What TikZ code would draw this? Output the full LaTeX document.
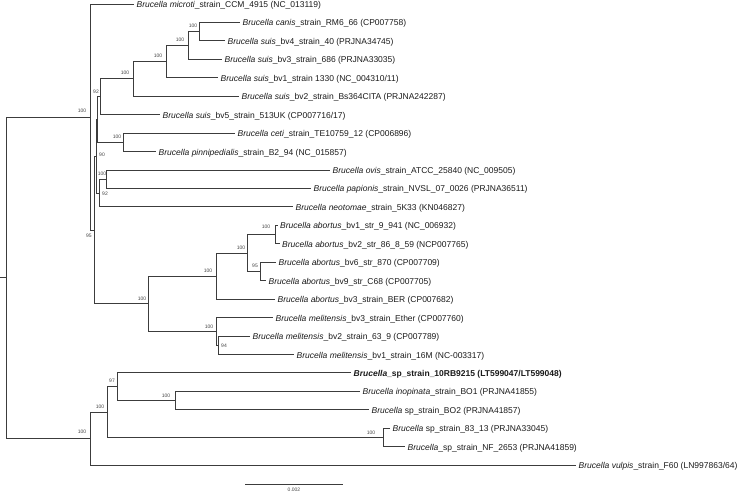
\documentclass[tikz,border=0pt]{standalone}
\usepackage{fontspec}
\setmainfont{Liberation Sans}
\definecolor{linec}{HTML}{3C3C3C}
\definecolor{textc}{HTML}{1A1A1A}
\definecolor{bootc}{HTML}{444444}
\begin{document}
\begin{tikzpicture}[x=1pt,y=-1pt,
  branch/.style={draw=linec, line width=0.8pt},
  leaf/.style={anchor=west, inner xsep=2.5pt, inner ysep=0pt, text height=0.72em, text depth=0pt,
    font=\fontsize{8.5}{9}\selectfont, text=textc},
  boot/.style={font=\fontsize{5}{6}\selectfont, text=bootc, inner sep=0pt}]
\useasboundingbox (0,0) rectangle (750,492);
% internal nodes
\coordinate (root0) at (0,277.8);
\coordinate (R) at (6,277.8);
\coordinate (A) at (90.5,117);
\coordinate (B) at (90.5,438.5);
\coordinate (G) at (94.5,230);
\coordinate (H) at (96,156.3);
\coordinate (Lp) at (97.5,119.5);
\coordinate (J) at (100,96.8);
\coordinate (K1) at (133,78.9);
\coordinate (K2) at (166,61.6);
\coordinate (K3) at (188,45.5);
\coordinate (K4) at (199,31.6);
\coordinate (M) at (123,142.3);
\coordinate (N) at (99,193);
\coordinate (O) at (106,179.2);
\coordinate (I) at (148,303.6);
\coordinate (P) at (216,276);
\coordinate (P1) at (247,252.9);
\coordinate (S1) at (275.5,234.5);
\coordinate (S2) at (260,271.4);
\coordinate (Q) at (216,331.3);
\coordinate (Qp) at (218.5,345.2);
\coordinate (C) at (107,412);
\coordinate (D) at (117,386.6);
\coordinate (F) at (175,400.5);
\coordinate (E) at (383,437.4);
% leaves
\node[leaf] (L0) at (134,4) {\textit{Brucella microti}\_strain\_CCM\_4915 (NC\_013119)};
\node[leaf] (L1) at (240,22.4) {\textit{Brucella canis}\_strain\_RM6\_66 (CP007758)};
\node[leaf] (L2) at (225,40.9) {\textit{Brucella suis}\_bv4\_strain\_40 (PRJNA34745)};
\node[leaf] (L3) at (222,59.3) {\textit{Brucella suis}\_bv3\_strain\_686 (PRJNA33035)};
\node[leaf] (L4) at (218,77.8) {\textit{Brucella suis}\_bv1\_strain 1330 (NC\_004310/11)};
\node[leaf] (L5) at (239,96.2) {\textit{Brucella suis}\_bv2\_strain\_Bs364CITA (PRJNA242287)};
\node[leaf] (L6) at (160,114.6) {\textit{Brucella suis}\_bv5\_strain\_513UK (CP007716/17)};
\node[leaf] (L7) at (235,133.1) {\textit{Brucella ceti}\_strain\_TE10759\_12 (CP006896)};
\node[leaf] (L8) at (156,151.5) {\textit{Brucella pinnipedialis}\_strain\_B2\_94 (NC\_015857)};
\node[leaf] (L9) at (330,170) {\textit{Brucella ovis}\_strain\_ATCC\_25840 (NC\_009505)};
\node[leaf] (L10) at (311,188.4) {\textit{Brucella papionis}\_strain\_NVSL\_07\_0026 (PRJNA36511)};
\node[leaf] (L11) at (293,206.8) {\textit{Brucella neotomae}\_strain\_5K33 (KN046827)};
\node[leaf] (L12) at (277.5,225.3) {\textit{Brucella abortus}\_bv1\_str\_9\_941 (NC\_006932)};
\node[leaf] (L13) at (279.5,243.7) {\textit{Brucella abortus}\_bv2\_str\_86\_8\_59 (NCP007765)};
\node[leaf] (L14) at (276,262.2) {\textit{Brucella abortus}\_bv6\_str\_870 (CP007709)};
\node[leaf] (L15) at (266,280.6) {\textit{Brucella abortus}\_bv9\_str\_C68 (CP007705)};
\node[leaf] (L16) at (275,299) {\textit{Brucella abortus}\_bv3\_strain\_BER (CP007682)};
\node[leaf] (L17) at (273,317.5) {\textit{Brucella melitensis}\_bv3\_strain\_Ether (CP007760)};
\node[leaf] (L18) at (250,335.9) {\textit{Brucella melitensis}\_bv2\_strain\_63\_9 (CP007789)};
\node[leaf] (L19) at (294,354.4) {\textit{Brucella melitensis}\_bv1\_strain\_16M (NC-003317)};
\node[leaf] (L20) at (351,372.8) {\textbf{\textit{Brucella}\_sp\_strain\_10RB9215 (LT599047/LT599048)}};
\node[leaf] (L21) at (360,391.2) {\textit{Brucella inopinata}\_strain\_BO1 (PRJNA41855)};
\node[leaf] (L22) at (369,409.7) {\textit{Brucella} sp\_strain\_BO2 (PRJNA41857)};
\node[leaf] (L23) at (390,428.1) {\textit{Brucella} sp\_strain\_83\_13 (PRJNA33045)};
\node[leaf] (L24) at (405,446.6) {\textit{Brucella}\_sp\_strain\_NF\_2653 (PRJNA41859)};
\node[leaf] (L25) at (576,465) {\textit{Brucella vulpis}\_strain\_F60 (LN997863/64)};
% branches
\draw[branch] (root0) -- (R);
\draw[branch] (R) |- (A);  \draw[branch] (R) |- (B);
\draw[branch] (A) |- (L0.west); \draw[branch] (A) |- (G);
\draw[branch] (G) |- (H); \draw[branch] (G) |- (I);
\draw[branch] (H) |- (Lp); \draw[branch] (H) |- (N);
\draw[branch] (Lp) |- (J); \draw[branch] (Lp) |- (M);
\draw[branch] (J) |- (K1); \draw[branch] (J) |- (L6.west);
\draw[branch] (K1) |- (K2); \draw[branch] (K1) |- (L5.west);
\draw[branch] (K2) |- (K3); \draw[branch] (K2) |- (L4.west);
\draw[branch] (K3) |- (K4); \draw[branch] (K3) |- (L3.west);
\draw[branch] (K4) |- (L1.west); \draw[branch] (K4) |- (L2.west);
\draw[branch] (M) |- (L7.west); \draw[branch] (M) |- (L8.west);
\draw[branch] (N) |- (O); \draw[branch] (N) |- (L11.west);
\draw[branch] (O) |- (L9.west); \draw[branch] (O) |- (L10.west);
\draw[branch] (I) |- (P); \draw[branch] (I) |- (Q);
\draw[branch] (P) |- (P1); \draw[branch] (P) |- (L16.west);
\draw[branch] (P1) |- (S1); \draw[branch] (P1) |- (S2);
\draw[branch] (S1) |- (L12.west); \draw[branch] (S1) |- (L13.west);
\draw[branch] (S2) |- (L14.west); \draw[branch] (S2) |- (L15.west);
\draw[branch] (Q) |- (L17.west); \draw[branch] (Q) |- (Qp);
\draw[branch] (Qp) |- (L18.west); \draw[branch] (Qp) |- (L19.west);
\draw[branch] (B) |- (C); \draw[branch] (B) |- (L25.west);
\draw[branch] (C) |- (D); \draw[branch] (C) |- (E);
\draw[branch] (D) |- (L20.west); \draw[branch] (D) |- (F);
\draw[branch] (F) |- (L21.west); \draw[branch] (F) |- (L22.west);
\draw[branch] (E) |- (L23.west); \draw[branch] (E) |- (L24.west);
% bootstrap values
\node[boot] (bA) at (82,111) {100};
\node[boot] (bB) at (82,432) {100};
\node[boot] (bK4) at (193,25.5) {100};
\node[boot] (bK3) at (180,39.5) {100};
\node[boot] (bK2) at (158,55.5) {100};
\node[boot] (bK1) at (125,73) {100};
\node[boot] (bJ) at (96,92) {92};
\node[boot] (bM) at (117,137) {100};
\node[boot] (bH) at (102,155) {90};
\node[boot] (bO) at (102,174) {100};
\node[boot] (bN) at (105,194) {92};
\node[boot] (bG) at (89,236) {95};
\node[boot] (bI) at (142,299) {100};
\node[boot] (bP) at (208,270.5) {100};
\node[boot] (bP1) at (241,248) {100};
\node[boot] (bS1) at (266,227) {100};
\node[boot] (bS2) at (255,266) {95};
\node[boot] (bQ) at (209,327) {100};
\node[boot] (bQp) at (224,346) {94};
\node[boot] (bC) at (100,407) {100};
\node[boot] (bD) at (112,381) {97};
\node[boot] (bF) at (166,396) {100};
\node[boot] (bE) at (371,433) {100};
% scale bar
\coordinate (sb1) at (245,484);
\coordinate (sb2) at (343,484);
\draw[branch] (sb1) -- (sb2);
\node[boot] (sbl) at (294,489.5) {0.002};
\end{tikzpicture}
\end{document}
